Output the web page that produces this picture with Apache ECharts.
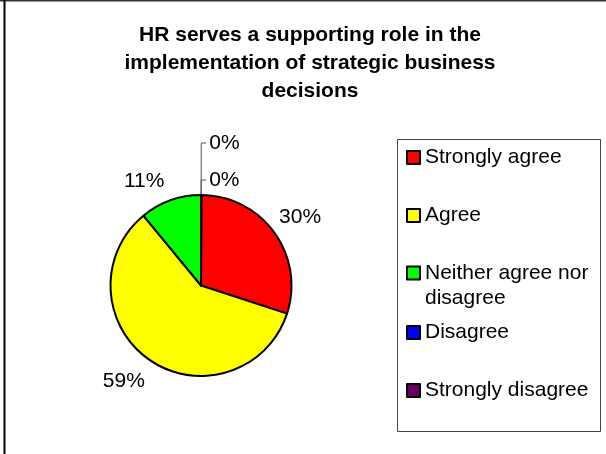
<!DOCTYPE html>
<html>
<head>
<meta charset="utf-8">
<script src="https://cdn.jsdelivr.net/npm/echarts@6/dist/echarts.min.js"></script>
<style>
  html, body { margin: 0; padding: 0; background: #fff; }
  #chart { width: 606px; height: 454px; }
</style>
</head>
<body>
<div id="chart"></div>
<script>
// ---- data ----
const titleText = 'HR serves a supporting role in the\nimplementation of strategic business\ndecisions';
const categories = ['Strongly agree', 'Agree', 'Neither agree nor disagree', 'Disagree', 'Strongly disagree'];
const values = [30, 59, 11, 0, 0];
const colors = ['#FF0000', '#FFFF00', '#00FF00', '#0000FF', '#660066'];

// ---- style / layout ----
const FONT = 'Liberation Sans, Arial, sans-serif';
const labelNudge = { 0: [-5, -8.5], 1: [1.6, 10.7], 2: [-2, -8] };
const zeroLeader = { 3: 15, 4: 52 };
const legendTops = [147, 205, 235.5, 322, 380];

const chart = echarts.init(document.getElementById('chart'), null, { renderer: 'canvas' });

const data = categories.map((name, i) => {
  const item = { name: name, value: values[i], itemStyle: { color: colors[i] } };
  if (zeroLeader[i] !== undefined) {
    item.label = { distanceToLabelLine: 3 };
    item.labelLine = { show: true, length: zeroLeader[i], length2: 5, lineStyle: { color: '#555', width: 1 } };
  }
  return item;
});

const legends = categories.map((name, i) => {
  const multi = name === 'Neither agree nor disagree';
  return {
    data: [name],
    left: 406,
    top: legendTops[i],
    orient: 'vertical',
    icon: 'rect',
    itemWidth: 13,
    itemHeight: 13,
    itemStyle: { borderColor: '#000', borderWidth: 2 },
    selectedMode: false,
    padding: 0,
    formatter: multi ? function () { return '\nNeither agree nor\ndisagree'; } : '{name}',
    textStyle: {
      fontFamily: FONT, fontSize: 21, color: '#000',
      lineHeight: multi ? 25 : 21
    }
  };
});

chart.setOption({
  backgroundColor: '#fff',
  animation: false,
  title: {
    text: titleText,
    left: 305,
    top: 16,
    textAlign: 'center',
    textStyle: { fontFamily: FONT, fontSize: 21, fontWeight: 'bold', color: '#000', lineHeight: 28 }
  },
  legend: legends,
  graphic: [
    { type: 'line', shape: { x1: 0, y1: 0.5, x2: 606, y2: 0.5 }, style: { stroke: '#333', lineWidth: 2 } },
    { type: 'line', shape: { x1: 4.5, y1: 0, x2: 4.5, y2: 454 }, style: { stroke: '#000', lineWidth: 2 } },
    { type: 'rect', shape: { x: 397.5, y: 139.5, width: 203, height: 292 }, style: { fill: 'none', stroke: '#444', lineWidth: 1 }, z: -1 }
  ],
  series: [{
    type: 'pie',
    center: [201, 285.5],
    radius: 90.5,
    startAngle: 89.9,
    clockwise: true,
    avoidLabelOverlap: false,
    itemStyle: { borderColor: '#000', borderWidth: 2 },
    emphasis: { disabled: true },
    label: {
      show: true,
      position: 'outside',
      fontFamily: FONT,
      fontSize: 21,
      color: '#000',
      distanceToLabelLine: 0,
      formatter: function (p) { return values[p.dataIndex] + '%'; }
    },
    labelLine: { show: false, length: 12, length2: 0 },
    labelLayout: function (p) {
      const n = labelNudge[p.dataIndex];
      return n ? { dx: n[0], dy: n[1] } : {};
    },
    data: data
  }]
});
</script>
</body>
</html>
